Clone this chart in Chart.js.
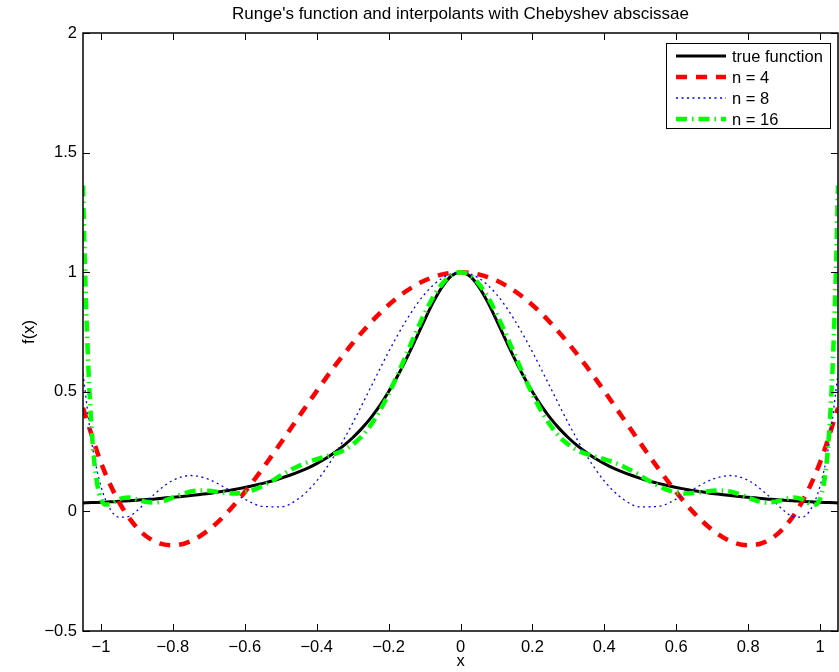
<!DOCTYPE html>
<html>
<head>
<meta charset="utf-8">
<title>Runge's function and interpolants</title>
<script src="https://cdn.jsdelivr.net/npm/chart.js@4.4.1/dist/chart.umd.min.js"></script>
<style>
  html, body { margin: 0; padding: 0; background: #fff; }
  #wrap { width: 839px; height: 672px; }
</style>
</head>
<body>
<div id="wrap"><canvas id="rungeChart" width="839" height="672"></canvas></div>
<script>
// Only the right half (x >= 0) of every curve is stored, the plot is symmetric about x = 0
const trueX = [0, 0.025, 0.05, 0.075, 0.1, 0.125, 0.15, 0.175, 0.2, 0.225, 0.25, 0.275, 0.3, 0.325, 0.35, 0.375,
  0.4, 0.425, 0.45, 0.475, 0.5, 0.525, 0.55, 0.575, 0.6, 0.625, 0.65, 0.675, 0.7, 0.725, 0.75, 0.775,
  0.8, 0.825, 0.85, 0.875, 0.9, 0.925, 0.95, 0.975, 1.0, 1.025, 1.05];
const trueY = [1, 0.985, 0.941, 0.877, 0.8, 0.719, 0.64, 0.566, 0.5, 0.441, 0.39, 0.346, 0.308, 0.275, 0.246, 0.221,
  0.2, 0.181, 0.165, 0.151, 0.138, 0.127, 0.117, 0.108, 0.1, 0.093, 0.086, 0.081, 0.075, 0.071, 0.066, 0.062,
  0.059, 0.056, 0.052, 0.05, 0.047, 0.045, 0.042, 0.04, 0.038, 0.037, 0.035];

const n4X = [0, 0.05, 0.1, 0.15, 0.2, 0.25, 0.3, 0.35, 0.4, 0.45, 0.5, 0.55, 0.6, 0.65, 0.7, 0.75,
  0.8, 0.85, 0.9, 0.95, 1.0, 1.05];
const n4Y = [1, 0.991, 0.965, 0.922, 0.863, 0.789, 0.703, 0.607, 0.503, 0.395, 0.286, 0.18, 0.081, -0.007, -0.077, -0.124,
  -0.142, -0.126, -0.068, 0.04, 0.204, 0.433];

const n8X = [0, 0.05, 0.1, 0.15, 0.2, 0.25, 0.3, 0.35, 0.4, 0.45, 0.5, 0.55, 0.6, 0.65, 0.7, 0.75,
  0.8, 0.85, 0.9, 0.925, 0.95, 0.975, 1.0, 1.025, 1.05];
const n8Y = [1, 0.976, 0.908, 0.801, 0.667, 0.518, 0.369, 0.235, 0.127, 0.054, 0.019, 0.021, 0.051, 0.095, 0.134, 0.15,
  0.13, 0.074, 0.003, -0.022, -0.024, 0.011, 0.105, 0.282, 0.575];

const n16X = [0, 0.025, 0.05, 0.075, 0.1, 0.125, 0.15, 0.175, 0.2, 0.225, 0.25, 0.275, 0.3, 0.325, 0.35, 0.375,
  0.4, 0.425, 0.45, 0.475, 0.5, 0.525, 0.55, 0.575, 0.6, 0.625, 0.65, 0.675, 0.7, 0.725, 0.75, 0.775,
  0.8, 0.825, 0.85, 0.875, 0.9, 0.925, 0.95, 0.975, 0.99, 1.0, 1.005, 1.01, 1.015, 1.02, 1.025, 1.03,
  1.035, 1.04, 1.045, 1.05];
const n16Y = [1, 0.988, 0.953, 0.898, 0.827, 0.745, 0.658, 0.571, 0.491, 0.419, 0.36, 0.313, 0.28, 0.256, 0.24, 0.229,
  0.218, 0.206, 0.19, 0.171, 0.15, 0.127, 0.107, 0.09, 0.08, 0.075, 0.077, 0.081, 0.086, 0.087, 0.083, 0.072,
  0.058, 0.044, 0.037, 0.04, 0.05, 0.058, 0.051, 0.03, 0.029, 0.052, 0.075, 0.11, 0.16, 0.229, 0.322, 0.444,
  0.6, 0.8, 1.051, 1.362];

const seriesLabels = ['true function', 'n = 4', 'n = 8', 'n = 16'];
const xTicks = [-1, -0.8, -0.6, -0.4, -0.2, 0, 0.2, 0.4, 0.6, 0.8, 1];
const yTicks = [-0.5, 0, 0.5, 1, 1.5, 2];

const FONT = '"Liberation Sans", Arial, Helvetica, sans-serif';
Chart.defaults.font.family = FONT;
Chart.defaults.color = '#000';

// build full curve from the stored right half
function mirror(xs, ys) {
  const pts = [];
  for (let i = xs.length - 1; i > 0; i--) pts.push({ x: -xs[i], y: ys[i] });
  for (let i = 0; i < xs.length; i++) pts.push({ x: xs[i], y: ys[i] });
  return pts;
}

function fmt(v) {
  return v < 0 ? '\u2212' + String(Math.abs(v)) : String(v);
}

// axes box with inward ticks, title and legend, drawn like the matlab figure
const matlabFrame = {
  id: 'matlabFrame',
  afterDatasetsDraw(chart) {
    const c = chart.ctx;
    const a = chart.chartArea;
    const xs = chart.scales.x;
    const ys = chart.scales.y;
    const tick = 7;

    c.save();
    c.strokeStyle = '#000';
    c.lineWidth = 1;
    c.beginPath();
    xTicks.forEach(v => {
      const px = Math.round(xs.getPixelForValue(v)) + 0.5;
      c.moveTo(px, a.bottom); c.lineTo(px, a.bottom - tick);
      c.moveTo(px, a.top); c.lineTo(px, a.top + tick);
    });
    yTicks.forEach(v => {
      const py = Math.round(ys.getPixelForValue(v)) + 0.5;
      c.moveTo(a.left, py); c.lineTo(a.left + tick, py);
      c.moveTo(a.right, py); c.lineTo(a.right - tick, py);
    });
    c.stroke();
    c.lineWidth = 1.5;
    c.strokeRect(a.left, a.top, a.right - a.left, a.bottom - a.top);

    // title
    c.fillStyle = '#000';
    c.font = '17px ' + FONT;
    c.textAlign = 'center';
    c.textBaseline = 'middle';
    c.fillText("Runge's function and interpolants with Chebyshev abscissae", (a.left + a.right) / 2, 14);

    // legend
    const bx = 666, by = 43, bw = 164, bh = 85;
    c.fillStyle = '#fff';
    c.fillRect(bx, by, bw, bh);
    c.lineWidth = 1;
    c.strokeRect(bx + 0.5, by + 0.5, bw, bh);
    c.font = '16.5px ' + FONT;
    c.textAlign = 'left';
    chart.data.datasets.forEach((ds, i) => {
      const yy = by + 13 + i * 21;
      c.beginPath();
      c.strokeStyle = ds.borderColor;
      c.lineWidth = ds.borderWidth;
      c.setLineDash(ds.borderDash || []);
      c.moveTo(676, yy);
      c.lineTo(726, yy);
      c.stroke();
      c.setLineDash([]);
      c.fillStyle = '#000';
      c.fillText(ds.label, 732, yy + 1);
    });
    c.restore();
  }
};

const ctx = document.getElementById('rungeChart').getContext('2d');

const rungeChart = new Chart(ctx, {
  type: 'line',
  data: {
    datasets: [{
      label: seriesLabels[0],
      data: mirror(trueX, trueY),
      borderColor: '#000000',
      borderWidth: 3,
      order: 4
    }, {
      label: seriesLabels[1],
      data: mirror(n4X, n4Y),
      borderColor: '#ff0000',
      borderWidth: 4.5,
      borderDash: [11, 9],
      order: 3
    }, {
      label: seriesLabels[2],
      data: mirror(n8X, n8Y),
      borderColor: '#0000ff',
      borderWidth: 1.3,
      borderDash: [2, 3.5],
      order: 2
    }, {
      label: seriesLabels[3],
      data: mirror(n16X, n16Y),
      borderColor: '#00ff00',
      borderWidth: 4.5,
      borderDash: [11, 5, 1.5, 5],
      order: 1
    }]
  },
  options: {
    responsive: false,
    animation: false,
    devicePixelRatio: 1,
    layout: { padding: { top: 33, right: 1, left: 20, bottom: 0 } },
    elements: {
      point: { radius: 0 },
      line: { cubicInterpolationMode: 'monotone', fill: false, borderCapStyle: 'butt' }
    },
    plugins: {
      legend: { display: false },
      title: { display: false },
      tooltip: { enabled: false }
    },
    scales: {
      x: {
        type: 'linear',
        min: -1.05,
        max: 1.05,
        grid: { display: false, drawTicks: false },
        border: { display: false },
        afterBuildTicks: scale => { scale.ticks = xTicks.map(v => ({ value: v })); },
        afterFit: scale => { scale.height = 41; },
        ticks: { font: { size: 16.5 }, padding: 7, maxRotation: 0, autoSkip: false, callback: v => fmt(v) },
        title: { display: true, text: 'x', font: { size: 16.5 }, padding: { top: 0, bottom: 1 } }
      },
      y: {
        type: 'linear',
        min: -0.5,
        max: 2,
        grid: { display: false, drawTicks: false },
        border: { display: false },
        afterBuildTicks: scale => { scale.ticks = yTicks.map(v => ({ value: v })); },
        afterFit: scale => { scale.width = 63; },
        ticks: { font: { size: 16.5 }, padding: 6, autoSkip: false, callback: v => fmt(v) },
        title: { display: true, text: 'f(x)', font: { size: 16.5 }, padding: { top: 0, bottom: 4 } }
      }
    }
  },
  plugins: [matlabFrame]
});
</script>
</body>
</html>
